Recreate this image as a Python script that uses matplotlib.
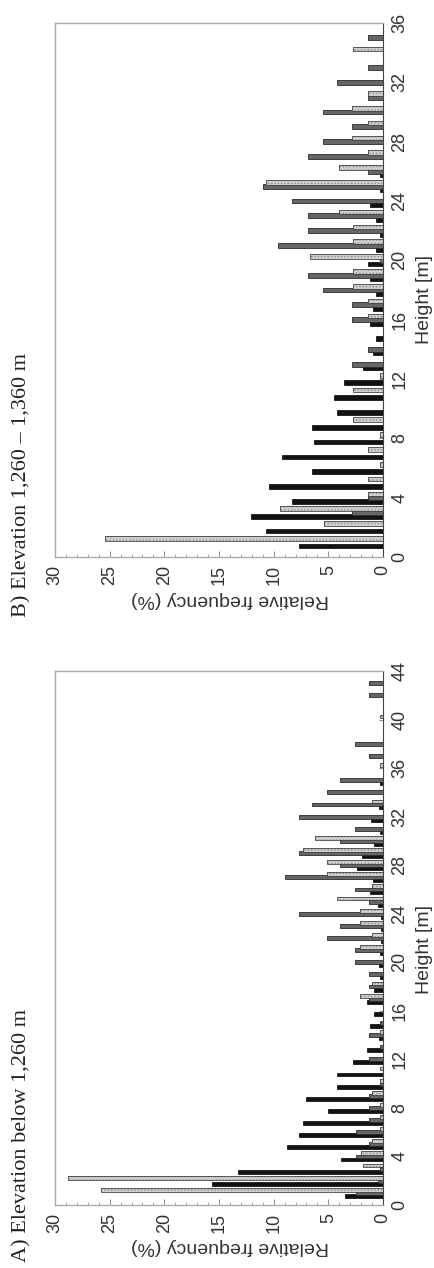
import numpy as np
import matplotlib
matplotlib.use("Agg")
import matplotlib.pyplot as plt
from matplotlib.ticker import MultipleLocator

plt.rcParams['font.family'] = ['Liberation Sans', 'DejaVu Sans']
plt.rcParams['hatch.linewidth'] = 0.6

# Panel A: elevation below 1,260 m  (height class, % per group)
heights_a = list(range(1, 44))
black_a = [3.5, 15.6, 13.3, 3.8, 8.8, 7.7, 7.3, 5.0, 7.0, 4.2,
           4.2, 2.7, 1.5, 0.4, 1.2, 0.8, 1.5, 0.8, 0.3, 0.4,
           0.3, 0.2, 0.2, 0.2, 0.5, 1.2, 0.9, 2.4, 1.9, 0.8,
           0.3, 1.1, 0.4, 0.0, 0.3, 0.0, 0.0, 0.0, 0.0, 0.0,
           0.0, 0.0, 0.0]
dark_a = [2.5, 0.5, 0.3, 2.5, 1.3, 2.5, 1.3, 1.3, 1.3, 0.3,
          0.0, 1.3, 0.3, 1.3, 0.3, 0.0, 1.3, 1.3, 1.3, 2.6,
          2.6, 5.1, 3.9, 7.7, 1.3, 2.6, 9.0, 3.9, 7.7, 3.9,
          2.6, 7.7, 6.5, 5.1, 3.9, 0.0, 1.3, 2.6, 0.0, 0.0,
          0.0, 1.3, 1.3]
light_a = [25.8, 28.8, 1.8, 2.0, 1.0, 0.3, 0.3, 0.3, 1.0, 0.3,
           0.3, 0.0, 0.0, 0.3, 0.0, 0.0, 2.1, 1.0, 0.0, 0.0,
           2.1, 1.0, 2.1, 2.1, 4.2, 1.0, 5.1, 5.1, 7.3, 6.2,
           0.0, 0.0, 1.0, 0.0, 0.0, 0.3, 0.0, 0.0, 0.0, 0.3,
           0.0, 0.0, 0.0]

# Panel B: elevation 1,260 - 1,360 m
heights_b = list(range(1, 36))
black_b = [7.7, 10.7, 12.1, 8.3, 10.4, 6.5, 9.2, 6.3, 6.5, 4.2,
           4.5, 3.6, 1.8, 0.9, 0.6, 1.2, 0.9, 0.6, 1.2, 1.4,
           0.6, 0.3, 0.6, 1.2, 0.3, 0.3, 0.0, 0.0, 0.0, 0.0,
           0.0, 0.0, 0.0, 0.0, 0.0]
dark_b = [0.0, 0.0, 2.8, 1.4, 0.0, 0.0, 0.0, 0.0, 0.0, 0.0,
          0.0, 0.0, 2.8, 1.4, 0.0, 2.8, 2.8, 5.5, 6.9, 0.3,
          9.6, 6.9, 6.9, 8.3, 11.0, 1.4, 6.9, 5.5, 2.8, 5.5,
          1.4, 4.2, 1.4, 0.0, 1.4]
light_b = [25.4, 5.4, 9.4, 1.4, 1.4, 0.3, 1.4, 0.3, 2.7, 0.0,
           2.7, 0.3, 0.0, 0.0, 0.0, 1.4, 1.4, 2.7, 2.7, 6.7,
           2.7, 2.7, 4.0, 0.0, 10.7, 4.0, 1.4, 2.8, 1.4, 2.8,
           1.4, 0.0, 0.0, 2.7, 0.0]

W, H = 435, 1268
BAR_H = 0.32


def draw_panel(ax, heights, black, dark, light, ymax):
    k = np.array(heights, dtype=float)
    ax.barh(k - 0.25, black, height=BAR_H, color='#121212',
            edgecolor='#000000', linewidth=0.5)
    ax.barh(k, dark, height=BAR_H, color='#666666',
            edgecolor='#2b2b2b', linewidth=0.6)
    # light bars: dotted fill, then outline
    ax.barh(k + 0.25, light, height=BAR_H, color='#cfcfcf',
            edgecolor='#8c8c8c', linewidth=0, hatch='.....')
    ax.barh(k + 0.25, light, height=BAR_H, fill=False,
            edgecolor='#444444', linewidth=0.6)

    ax.set_xlim(30, 0)
    ax.set_ylim(0, ymax)

    ax.xaxis.set_major_locator(MultipleLocator(5))
    ax.xaxis.set_minor_locator(MultipleLocator(1))
    ax.yaxis.set_major_locator(MultipleLocator(4))
    ax.yaxis.tick_right()
    ax.tick_params(axis='x', which='major', direction='in', length=4,
                   width=0.6, color='#777777', labelsize=13, pad=6,
                   labelrotation=90)
    ax.tick_params(axis='x', which='minor', direction='in', length=2,
                   width=0.5, color='#888888')
    ax.tick_params(axis='y', which='major', direction='in', length=3,
                   width=0.6, color='#777777', labelsize=13, pad=6,
                   labelrotation=90)
    for lab in ax.get_yticklabels():
        lab.set_verticalalignment('center')
    for lab in ax.get_xticklabels() + ax.get_yticklabels():
        lab.set_color('#333333')

    for side in ['left', 'top', 'bottom']:
        ax.spines[side].set_color('#aaaaaa')
        ax.spines[side].set_linewidth(1.0)
    ax.spines['right'].set_color('#444444')
    ax.spines['right'].set_linewidth(0.8)


fig = plt.figure(figsize=(W / 100, H / 100), dpi=100)

ax_a = fig.add_axes([55 / W, 1 - 1205 / H, 328 / W, 534 / H])
ax_b = fig.add_axes([55 / W, 1 - 557 / H, 328 / W, 534 / H])

draw_panel(ax_a, heights_a, black_a, dark_a, light_a, 44)
draw_panel(ax_b, heights_b, black_b, dark_b, light_b, 36)

# axis titles (figure is turned on its side)
fig.text(230 / W, 1 - 1247 / H, 'Relative frequency (%)', rotation=180,
         ha='center', va='center', fontsize=14, color='#333333')
fig.text(230 / W, 1 - 600 / H, 'Relative frequency (%)', rotation=180,
         ha='center', va='center', fontsize=14, color='#333333')
fig.text(425 / W, 1 - 949 / H, 'Height [m]', rotation=90,
         ha='center', va='center', fontsize=14, color='#333333')
fig.text(425 / W, 1 - 300 / H, 'Height [m]', rotation=90,
         ha='center', va='center', fontsize=14, color='#333333')

fig.text(22 / W, 1 - 1262 / H, 'A) Elevation below 1,260 m', rotation=90,
         ha='center', va='bottom', fontsize=16, family='Liberation Serif',
         color='#222222')
fig.text(22 / W, 1 - 617 / H, 'B) Elevation 1,260 \u2013 1,360 m', rotation=90,
         ha='center', va='bottom', fontsize=16, family='Liberation Serif',
         color='#222222')

fig.savefig('out.png', dpi=100)
